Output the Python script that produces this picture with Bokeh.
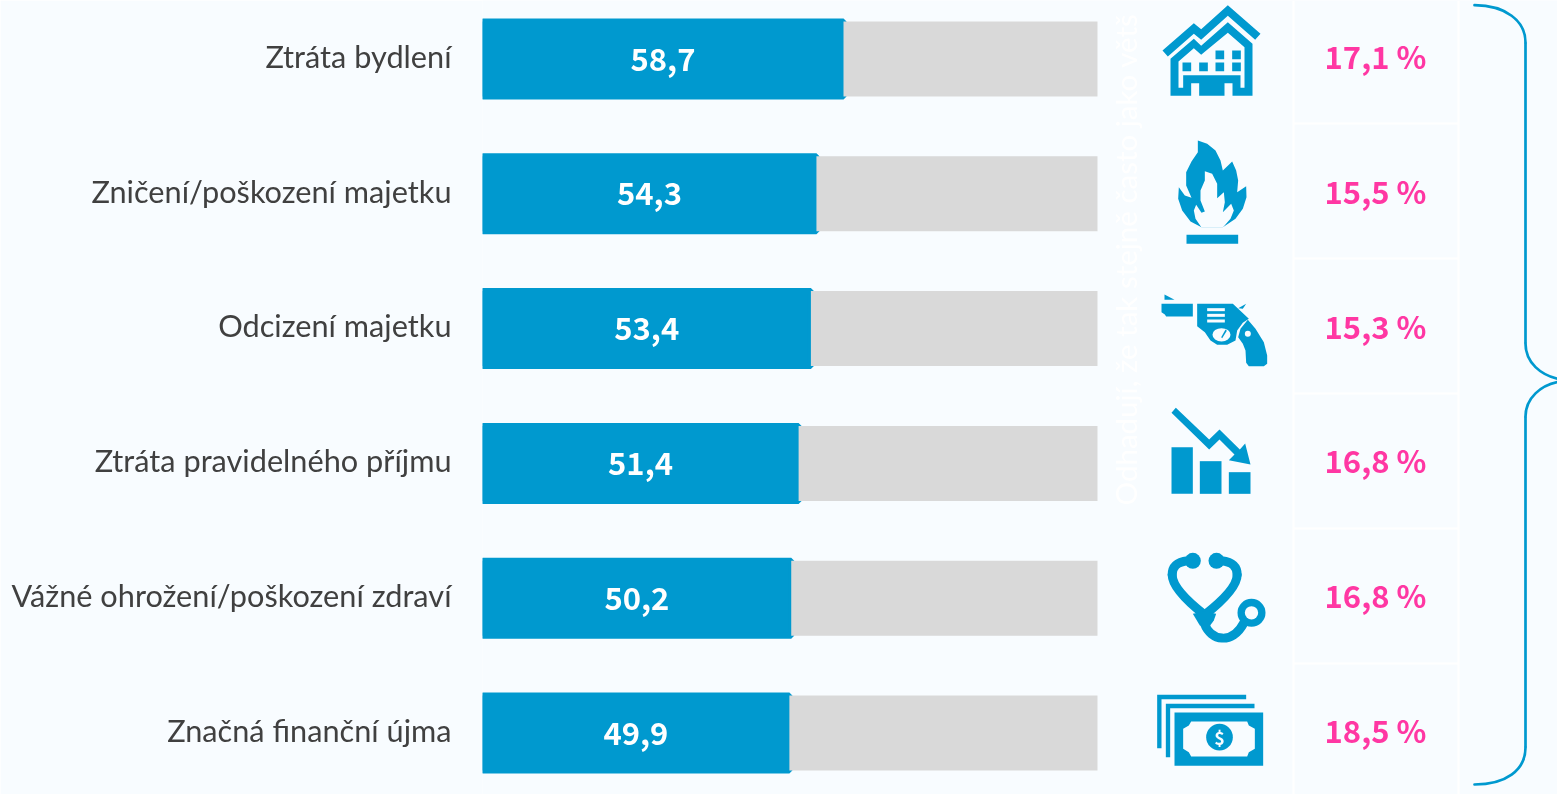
from bokeh.plotting import figure
from bokeh.models import Range1d, LinearAxis, FixedTicker
from bokeh.core.properties import value
from bokeh.embed import file_html
from bokeh.resources import INLINE
import math

# ---------- data ----------
categories = ["Ztráta bydlení", "Zničení/poškození majetku", "Odcizení majetku",
              "Ztráta pravidelného příjmu", "Vážné ohrožení/poškození zdraví", "Značná finanční újma"]
bar_values = [58.7, 54.3, 53.4, 51.4, 50.2, 49.9]
share_values = [17.1, 15.5, 15.3, 16.8, 16.8, 18.5]
rows = list(range(len(categories)))
faint_note = "Odhadují, že tak stejně často jako větš"

BG, BLUE, GREY, PINK, DARK = "#F8FCFF", "#0099CF", "#D9D9D9", "#FF37A3", "#404040"
FONT = "Noto Sans CJK SC"
LABEL_FONT = "Lato"

W, H = 1557, 794
X0, XPER = 482, 6.15
ROW0, ROWH = 58.5, 134.8

p = figure(width=W, height=H, output_backend="svg", toolbar_location=None,
           x_axis_location=None, y_axis_location=None,
           x_range=Range1d(0, (W - X0) / XPER),
           y_range=Range1d((H - ROW0) / ROWH, -ROW0 / ROWH),
           min_border_left=X0, min_border_right=0, min_border_top=0, min_border_bottom=0,
           background_fill_color=BG, border_fill_color=BG, outline_line_color=None)
p.styles = {"position": "fixed", "left": "0", "top": "0"}
p.grid.visible = False
p.extra_x_ranges["px"] = Range1d(X0, W)
p.extra_y_ranges["py"] = Range1d(H, 0)
PX = dict(x_range_name="px", y_range_name="py")

label_ticks = [r - 0.02 for r in rows]
yax = LinearAxis(ticker=FixedTicker(ticks=label_ticks),
                 major_label_overrides={t: c for t, c in zip(label_ticks, categories)},
                 axis_line_color=None, major_tick_line_color=None, minor_tick_line_color=None,
                 major_label_standoff=25, major_label_text_font=LABEL_FONT,
                 major_label_text_font_size="30.7px", major_label_text_color=DARK)
p.add_layout(yax, "left")

# ---------- faint background furniture ----------
for yy in [123, 258, 393, 528, 663]:
    p.line([1293, 1458], [yy, yy], line_color="#FFFFFF", line_width=2, **PX)
for xx in [1293, 1458]:
    p.line([xx, xx], [0, H], line_color="#FFFFFF", line_width=2, **PX)
p.text([1125], [505], text=[faint_note], angle=math.pi / 2, text_color="#FFFFFF",
       text_font=value(LABEL_FONT), text_font_size="29.5px", text_baseline="alphabetic", **PX)

# ---------- bars ----------
bh = 75 / ROWH
p.hbar(y=rows, left=0, right=bar_values, height=bh, fill_color=BLUE, line_color=BLUE, line_width=6)
p.hbar(y=rows, left=bar_values, right=100, height=bh, fill_color=GREY, line_color=None)
p.text([v / 2 for v in bar_values], rows, text=[f"{v:.1f}".replace(".", ",") for v in bar_values],
       text_color="#FFFFFF", text_font=value(FONT), text_font_style="bold", text_font_size="31px",
       text_align="center", text_baseline="middle")

# ---------- share labels ----------
p.text([1375] * 6, [ROW0 + ROWH * r for r in rows],
       text=[f"{v:.1f} %".replace(".", ",") for v in share_values],
       text_color=PINK, text_font=value(FONT), text_font_style="bold", text_font_size="31px",
       text_align="center", text_baseline="middle", y_offset=-3.5, **PX)

# ---------- icons (outlines traced in 3x units) ----------
def poly(pts, ox, oy, color=BLUE):
    p.patch([ox + a / 3 for a, _ in pts], [oy + b / 3 for _, b in pts],
            fill_color=color, line_color=None, **PX)

def rect(x0, y0, x1, y1, ox, oy, color=BLUE):
    poly([(x0, y0), (x1, y0), (x1, y1), (x0, y1)], ox, oy, color)

def dot(cx, cy, r, ox, oy, color=BLUE):
    p.scatter([ox + cx / 3], [oy + cy / 3], size=2 * r / 3, marker="circle",
              fill_color=color, line_color=None, **PX)

def curve(pts, ox, oy, w, color=BLUE):
    x = [ox + a / 3 for a, _ in pts]
    y = [oy + b / 3 for _, b in pts]
    p.bezier(x0=[x[0]], y0=[y[0]], cx0=[x[1]], cy0=[y[1]], cx1=[x[2]], cy1=[y[2]], x1=[x[3]], y1=[y[3]],
             line_color=color, line_width=w, line_cap="round", **PX)

# house
o = (1100, 0)
poly([(186,150),(280,68),(302,86),(382,14),(480,100),(464,118),(382,46),(302,118),(280,100),(202,168)], *o)
poly([(210,175),(280,115),(302,136),(382,65),(456,130),(456,286),(210,286)], *o)
poly([(234,183),(280,143),(302,163),(382,97),(432,140),(432,262),(234,262)], *o, BG)
for a, b in [(246,186),(296,186),(345,186),(395,186),(345,150),(395,150)]:
    rect(a, b, a + 26, b + 26, *o)
rect(248, 224, 420, 264, *o)
rect(272, 248, 296, 287, *o, BG)
rect(372, 248, 396, 287, *o, BG)

# flame
o = (1165, 135)
poly([(97,15),(125,25),(150,45),(165,75),(172,105),(190,88),(200,78),(212,105),(218,135),(215,170),
      (242,152),(243,185),(232,220),(210,250),(172,275),(108,275),(75,258),(50,225),(38,190),(40,155),
      (58,180),(78,187),(62,150),(62,110),(78,78),(97,50)], *o)
poly([(118,107),(140,115),(155,145),(155,188),(175,170),(178,200),(172,230),(197,205),(205,225),
      (195,250),(172,276),(108,276),(90,250),(85,225),(92,208),(108,232),(118,228),(105,195),(105,165),(118,135)], *o, BG)
rect(63, 298, 218, 325, *o)

# revolver
o = (1155, 285)
poly([(27,27),(27,43),(57,43)], *o)
poly([(18,55),(112,55),(112,93),(32,93),(28,87),(18,80)], *o)
poly([(125,55),(232,55),(280,100),(262,112),(245,135),(240,165),(215,178),(185,178),(165,165),(148,140),(125,122)], *o)
for yy in (68, 85, 102):
    rect(155, yy, 208, yy + 9, *o, BG)
p.ellipse([o[0] + 198 / 3], [o[1] + 148 / 3], width=54 / 3, height=40 / 3, fill_color=BG, line_color=None, **PX)
poly([(210,132),(214,136),(200,158),(197,155)], *o)
poly([(248,68),(272,55),(262,70)], *o)
poly([(277,103),(300,130),(325,170),(335,210),(335,235),(325,242),(280,242),(272,232),(270,195),(262,175),(248,155),(255,130)], *o)
dot(277, 145, 9, *o, BG)

# falling chart
o = (1100, 394)
rect(213, 158, 277, 298, *o)
rect(298, 200, 363, 298, *o)
rect(385, 233, 450, 298, *o)
poly([(213,55),(226,40),(326,135),(357,105),(418,165),(434,147),(450,210),(385,197),(402,180),(357,135),(326,165)], *o)

# stethoscope
o = (1160, 545)
dot(97, 46, 24, *o)
dot(168, 46, 24, *o)
curve([(82,46),(50,50),(35,62),(35,88)], *o, 9)
curve([(35,88),(35,125),(90,175),(132,208)], *o, 9)
curve([(183,46),(215,50),(230,62),(230,88)], *o, 9)
curve([(230,88),(230,125),(175,175),(133,208)], *o, 9)
poly([(97,205),(132,198),(167,205),(160,225),(145,245),(118,240)], *o)
curve([(132,235),(150,285),(215,300),(250,232)], *o, 9)
dot(273, 202, 42, *o)
dot(273, 202, 20, *o, BG)

# banknotes
o = (1150, 685)
poly([(20,28),(287,28),(287,41),(33,41),(33,188),(20,188)], *o)
poly([(46,55),(312,55),(312,68),(59,68),(59,215),(46,215)], *o)
rect(72, 81, 338, 241, *o)
poly([(122,108),(290,108),(295,120),(313,130),(313,190),(295,200),(290,213),(122,213),(115,200),(98,190),(98,130),(115,120)], *o, BG)
dot(207, 155, 40, *o)
p.text([o[0] + 207 / 3], [o[1] + 155 / 3], text=["$"], text_color=BG, text_font=value(FONT), text_font_style="bold",
       text_font_size="18px", text_align="center", text_baseline="middle", **PX)

# ---------- brace ----------
for seg in [[(1474,4.7),(1505,5),(1525,20),(1525,42)], [(1525,343),(1525,362),(1540,375),(1560,379)],
            [(1560,381),(1540,384),(1525,398),(1525,416)], [(1525,747),(1525,770),(1505,784),(1474,784)]]:
    curve([(3 * a, 3 * b) for a, b in seg], 0, 0, 2.7)
p.line([1525, 1525], [42, 343], line_color=BLUE, line_width=2.7, **PX)
p.line([1525, 1525], [416, 747], line_color=BLUE, line_width=2.7, **PX)

open("out.html", "w").write(file_html(p, INLINE))
